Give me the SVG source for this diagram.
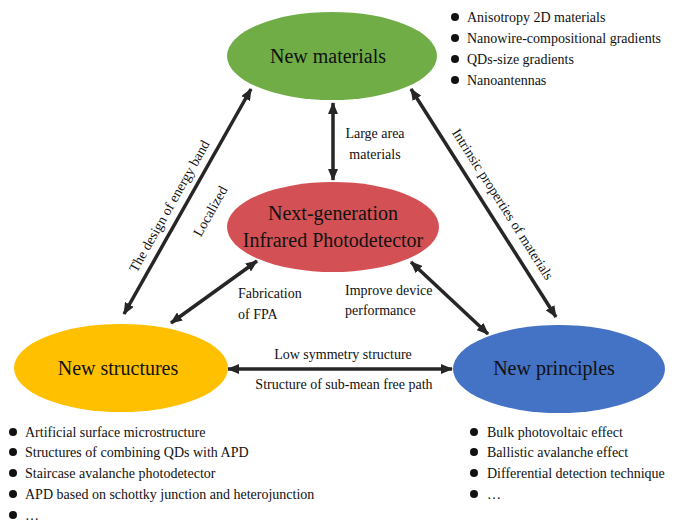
<svg xmlns="http://www.w3.org/2000/svg" width="680" height="523" viewBox="0 0 680 523" font-family="'Liberation Serif', 'Times New Roman', serif">
<defs>
<marker id="ah" viewBox="0 0 12 10" refX="11" refY="5" markerWidth="12" markerHeight="10" markerUnits="userSpaceOnUse" orient="auto-start-reverse">
<path d="M0,0 L12,5 L0,10 Z" fill="#262626"/>
</marker>
<style>
text { font-family: 'Liberation Serif', 'Times New Roman', serif; fill: #111; }
.node { font-size: 20px; text-anchor: middle; }
.lbl { font-size: 14px; }
.c { text-anchor: middle; }
.b { font-size: 14px; }
.a { stroke: #262626; stroke-width: 3.5; }
</style>
</defs>
<rect width="680" height="523" fill="#fff"/>
<g id="connectors">
<line class="a" x1="124" y1="314" x2="251" y2="89" marker-start="url(#ah)" marker-end="url(#ah)"/>
<line class="a" x1="333" y1="103" x2="333" y2="180" marker-start="url(#ah)" marker-end="url(#ah)"/>
<line class="a" x1="411" y1="89" x2="556" y2="317" marker-start="url(#ah)" marker-end="url(#ah)"/>
<line class="a" x1="171" y1="323" x2="257" y2="261" marker-start="url(#ah)" marker-end="url(#ah)"/>
<line class="a" x1="411" y1="262" x2="488" y2="334" marker-start="url(#ah)" marker-end="url(#ah)"/>
<line class="a" x1="228" y1="369" x2="452" y2="369" marker-start="url(#ah)" marker-end="url(#ah)"/>
</g>
<g id="labels">
<text class="lbl" transform="translate(169,206) rotate(-60.5)" text-anchor="middle" font-size="15" dy="5">The design of energy band</text>
<text class="lbl" transform="translate(210,211) rotate(-60.5)" text-anchor="middle" font-size="15" dy="5">Localized</text>
<text class="lbl" transform="translate(503,204) rotate(57.5)" text-anchor="middle" font-size="15" dy="5">Intrinsic properties of materials</text>
<text class="lbl c" x="375" y="138">Large area</text>
<text class="lbl c" x="375" y="159">materials</text>
<text class="lbl" x="238" y="298">Fabrication</text>
<text class="lbl" x="238" y="319">of FPA</text>
<text class="lbl" x="345" y="295">Improve device</text>
<text class="lbl" x="345" y="315">performance</text>
<text class="lbl c" x="343" y="359">Low symmetry structure</text>
<text class="lbl c" x="344" y="389">Structure of sub-mean free path</text>
</g>
<g id="new-materials">
<ellipse cx="332" cy="56" rx="105" ry="44" fill="#70AD47"/>
<text class="node" x="328" y="63">New materials</text>
</g>
<g id="next-gen">
<ellipse cx="333" cy="227" rx="106" ry="45" fill="#D35155"/>
<text class="node" x="333" y="220" font-size="19">Next-generation</text>
<text class="node" x="333" y="247" font-size="19">Infrared Photodetector</text>
</g>
<g id="new-structures">
<ellipse cx="121" cy="368" rx="107" ry="44" fill="#FFC000"/>
<text class="node" x="118" y="375">New structures</text>
</g>
<g id="new-principles">
<ellipse cx="559" cy="369" rx="106" ry="44" fill="#4472C4"/>
<text class="node" x="554" y="375">New principles</text>
</g>
<g id="materials-list">
<circle cx="455" cy="17" r="4" fill="#111"/><text class="b" x="467" y="22">Anisotropy 2D materials</text>
<circle cx="455" cy="38" r="4" fill="#111"/><text class="b" x="467" y="43">Nanowire-compositional gradients</text>
<circle cx="455" cy="59" r="4" fill="#111"/><text class="b" x="467" y="64">QDs-size gradients</text>
<circle cx="455" cy="80" r="4" fill="#111"/><text class="b" x="467" y="85">Nanoantennas</text>
</g>
<g id="structures-list">
<circle cx="13" cy="432" r="4" fill="#111"/><text class="b" x="25" y="437">Artificial surface microstructure</text>
<circle cx="13" cy="452" r="4" fill="#111"/><text class="b" x="25" y="457">Structures of combining QDs with APD</text>
<circle cx="13" cy="473" r="4" fill="#111"/><text class="b" x="25" y="478">Staircase avalanche photodetector</text>
<circle cx="13" cy="494" r="4" fill="#111"/><text class="b" x="25" y="499">APD based on schottky junction and heterojunction</text>
<circle cx="13" cy="515" r="4" fill="#111"/><text class="b" x="25" y="520">…</text>
</g>
<g id="principles-list">
<circle cx="474" cy="432" r="4" fill="#111"/><text class="b" x="487" y="437">Bulk photovoltaic effect</text>
<circle cx="474" cy="452" r="4" fill="#111"/><text class="b" x="487" y="457">Ballistic avalanche effect</text>
<circle cx="474" cy="473" r="4" fill="#111"/><text class="b" x="487" y="478">Differential detection technique</text>
<circle cx="474" cy="494" r="4" fill="#111"/><text class="b" x="487" y="499">…</text>
</g>
</svg>
